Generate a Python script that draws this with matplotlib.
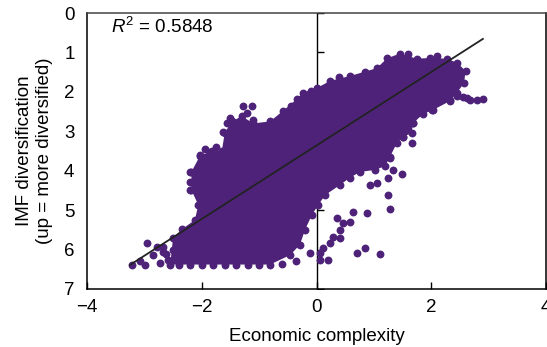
import matplotlib
matplotlib.use("Agg")
import matplotlib.pyplot as plt
import numpy as np

plt.rcParams['font.family'] = ['Liberation Sans', 'DejaVu Sans']
plt.rcParams['mathtext.fontset'] = 'custom'
plt.rcParams['mathtext.rm'] = 'Liberation Sans'
plt.rcParams['mathtext.it'] = 'Liberation Sans:italic'

# outline of the dense part of the cloud (economic complexity, IMF diversification)
core_x = [-2.55, -2.50, -2.34, -2.12, -2.06, -2.18, -2.18, -2.03, -1.82, -1.65,
          -1.60, -1.48, -1.30, -1.10, -0.81, -0.58, -0.34, -0.24, 0.01, 0.24,
          0.58, 1.05, 1.23, 1.45, 1.75, 1.98, 2.27, 2.45, 2.60, 2.57,
          2.45, 2.33, 2.03, 1.86, 1.68, 1.66, 1.51, 1.40, 1.28, 1.20,
          1.02, 0.76, 0.58, 0.41, 0.15, 0.03, -0.08, -0.20, -0.29, -0.46,
          -0.81]
core_y = [6.38, 5.70, 5.48, 5.25, 4.87, 4.49, 4.03, 3.62, 3.50, 3.50,
          3.05, 2.75, 2.62, 2.80, 2.75, 2.48, 2.18, 2.02, 1.90, 1.72,
          1.60, 1.40, 1.15, 1.03, 1.16, 1.14, 1.16, 1.26, 1.47, 1.78,
          2.02, 2.23, 2.46, 2.56, 2.80, 3.04, 3.14, 3.30, 3.65, 3.88,
          3.98, 4.03, 4.18, 4.36, 4.62, 4.87, 5.12, 5.50, 5.88, 6.14,
          6.38]

# single points outside the dense part
dots_x = [-3.21, -2.99, -2.95, -2.78, -2.67, -2.73, -2.59, -2.67, -2.50, -2.40,
          -2.20, -2.00, -1.80, -1.60, -1.40, -1.20, -1.00, -2.85, -2.62, -3.08,
          -1.28, -1.12, -1.21, -1.51, -1.56, -1.63, -2.03, -1.86, -2.20, -2.20, -2.20,
          -1.11, -0.95, -1.95, -1.75, -0.45, -0.10, 0.40, 0.85, 1.60, 2.10,
          2.33, 2.45, 2.55, 2.67, 2.80, 2.90, 2.62, 1.80, 2.01, 1.68, 1.58, 1.51,
          1.28, 1.33, 1.49, 1.25, 1.66, 0.93, 1.05, 1.25, 1.28,
          0.88, 0.64, 0.46, 0.58, 0.41, 0.29, 0.24, 0.36, 0.71, 0.84, 1.11,
          0.06, -0.11, 0.06, 0.20, 0.41, 0.12, -0.35, -0.60]
dots_y = [6.39, 6.39, 5.83, 5.93, 5.93, 6.34, 6.26, 6.06, 6.01, 6.38,
          6.38, 6.38, 6.38, 6.38, 6.38, 6.38, 6.38, 6.15, 6.12, 6.30,
          2.36, 2.36, 2.54, 2.66, 2.79, 3.02, 3.60, 3.53, 4.03, 4.29, 4.49,
          2.71, 2.90, 3.45, 3.40, 2.35, 1.98, 1.62, 1.50, 1.05, 1.08,
          2.21, 2.10, 2.13, 2.21, 2.21, 2.18, 2.16, 2.51, 2.46, 2.79, 2.97, 3.14,
          3.68, 3.98, 4.08, 4.18, 3.30, 4.36, 4.31, 4.62, 4.97,
          5.07, 5.05, 5.33, 5.30, 5.50, 5.68, 5.83, 5.20, 6.09, 5.96, 6.11,
          6.09, 6.09, 6.26, 6.26, 5.71, 5.95, 6.30, 6.36]

fit_slope = -0.932
fit_intercept = 3.36
fit_x = [-3.25, 2.90]
r_squared = 0.5848

x_ticks = [-4, -2, 0, 2, 4]
y_ticks = [0, 1, 2, 3, 4, 5, 6, 7]

purple = '#4e2279'
fs = 13.5

fig = plt.figure(figsize=(5.47, 3.47), dpi=100)
ax = fig.add_axes([87 / 547, 1 - 289 / 347, 459 / 547, 276 / 347])

# zero line with its own inward ticks, drawn under the points
ax.axvline(0, color='black', lw=1.0, zorder=1)
ax.plot(np.zeros(len(y_ticks)), y_ticks, ls='none', marker=1, markersize=5,
        color='black', mew=1.0, zorder=1)

ax.fill(core_x, core_y, color=purple, lw=0, zorder=2)
all_x = np.concatenate([core_x, dots_x])
all_y = np.concatenate([core_y, dots_y])
ax.scatter(all_x, all_y, s=32, color=purple, linewidths=0, zorder=3)

fx = np.array(fit_x)
ax.plot(fx, fit_intercept + fit_slope * fx, color='#222222', lw=1.3, zorder=4)

ax.text(-3.58, 0.36, r'$R^{2}$ = %.4f' % r_squared, fontsize=fs,
        va='center', ha='left')

ax.set_xlim(-4, 4)
ax.set_ylim(7, 0)
ax.set_xticks(x_ticks)
ax.set_yticks(y_ticks)
ax.tick_params(axis='x', direction='in', length=5, width=1, pad=7, labelsize=fs)
ax.tick_params(axis='y', length=0, pad=9, labelsize=fs)
for s in ax.spines.values():
    s.set_linewidth(1.1)
ax.spines['top'].set_color('#444444')

ax.set_xlabel('Economic complexity', fontsize=fs, labelpad=9)
ax.set_ylabel('IMF diversification\n(up = more diversified)', fontsize=fs,
              labelpad=8)

fig.savefig('out.png', dpi=100)
